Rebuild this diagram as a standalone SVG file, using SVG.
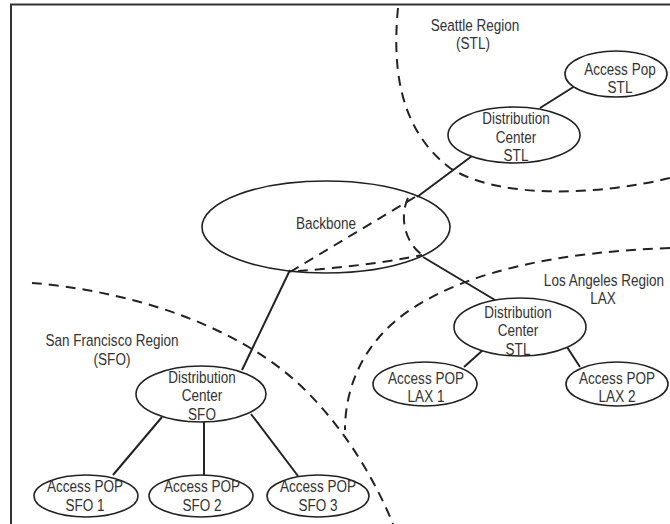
<svg xmlns="http://www.w3.org/2000/svg" width="670" height="524" viewBox="0 0 670 524">
  <style>
    .frame { stroke: #333; stroke-width: 2; fill: none; }
    .boundary { stroke: #222; stroke-width: 2; fill: none; stroke-dasharray: 10 7; }
    .node ellipse { fill: #fff; stroke: #222; stroke-width: 1.6; }
    #backbone ellipse { fill: none; }
    .link { stroke: #222; stroke-width: 2; fill: none; }
    text { font-family: "Liberation Sans", Arial, sans-serif; font-size: 16.5px; fill: #333; text-anchor: middle; }
  </style>

  <rect width="670" height="524" fill="#fff"/>

  <!-- page frame (top and left rules) -->
  <path class="frame" d="M10,4.5 H670 M11,4 V524"/>

  <!-- region boundaries -->
  <g id="regions">
    <path class="boundary" d="M398,8 C392,70 400,130 450,168 C500,200 600,195 670,178"/>
    <path class="boundary" d="M32,283 C120,290 230,320 300,385 C345,428 375,480 393,524"/>
    <path class="boundary" d="M670,248 C560,252 470,270 410,310 C365,340 345,385 345,430"/>
    <path class="boundary" d="M290,272 L415,197"/>
    <path class="boundary" d="M408,198 C400,215 403,240 422,255"/>
    <path class="boundary" d="M298,271 C340,268 390,262 422,255"/>
  </g>

  <!-- region labels (condensed with a horizontal scale) -->
  <g id="region-labels">
    <text transform="translate(475,31) scale(0.82,1)">Seattle Region</text>
    <text transform="translate(473,49) scale(0.82,1)">(STL)</text>
    <text transform="translate(112,346) scale(0.82,1)">San Francisco Region</text>
    <text transform="translate(112,365) scale(0.82,1)">(SFO)</text>
    <text transform="translate(604,286) scale(0.82,1)">Los Angeles Region</text>
    <text transform="translate(603,304) scale(0.82,1)">LAX</text>
  </g>

  <!-- connectors -->
  <g id="connectors">
    <line class="link" x1="417" y1="197" x2="472" y2="156"/>
    <line class="link" x1="540" y1="108" x2="575" y2="86"/>
    <line class="link" x1="423" y1="257" x2="495" y2="300"/>
    <line class="link" x1="483" y1="350" x2="464" y2="367"/>
    <line class="link" x1="567" y1="347" x2="580" y2="367"/>
    <line class="link" x1="290" y1="270" x2="242" y2="370"/>
    <line class="link" x1="162" y1="417" x2="113" y2="475"/>
    <line class="link" x1="204" y1="422" x2="204" y2="475"/>
    <line class="link" x1="251" y1="414" x2="298" y2="476"/>
  </g>

  <!-- nodes -->
  <g id="backbone" class="node">
    <ellipse cx="326" cy="227" rx="124" ry="46"/>
    <text transform="translate(326,229) scale(0.82,1)">Backbone</text>
  </g>

  <g id="dc-stl" class="node">
    <ellipse cx="514" cy="135" rx="66" ry="28"/>
    <text transform="translate(516,124) scale(0.82,1)">Distribution</text>
    <text transform="translate(516,143) scale(0.82,1)">Center</text>
    <text transform="translate(516,161) scale(0.82,1)">STL</text>
  </g>

  <g id="pop-stl" class="node">
    <ellipse cx="616" cy="74" rx="51" ry="23"/>
    <text transform="translate(620,75) scale(0.82,1)">Access Pop</text>
    <text transform="translate(620,93) scale(0.82,1)">STL</text>
  </g>

  <g id="dc-lax" class="node">
    <ellipse cx="520" cy="327" rx="66" ry="29"/>
    <text transform="translate(518,318) scale(0.82,1)">Distribution</text>
    <text transform="translate(518,336) scale(0.82,1)">Center</text>
    <text transform="translate(518,355) scale(0.82,1)">STL</text>
  </g>

  <g id="pop-lax1" class="node">
    <ellipse cx="425" cy="384" rx="52" ry="22"/>
    <text transform="translate(426,384) scale(0.82,1)">Access POP</text>
    <text transform="translate(426,402) scale(0.82,1)">LAX 1</text>
  </g>

  <g id="pop-lax2" class="node">
    <ellipse cx="617" cy="384" rx="51" ry="22"/>
    <text transform="translate(617,384) scale(0.82,1)">Access POP</text>
    <text transform="translate(617,402) scale(0.82,1)">LAX 2</text>
  </g>

  <g id="dc-sfo" class="node">
    <ellipse cx="201" cy="394" rx="65" ry="28"/>
    <text transform="translate(202,383) scale(0.82,1)">Distribution</text>
    <text transform="translate(202,401) scale(0.82,1)">Center</text>
    <text transform="translate(202,420) scale(0.82,1)">SFO</text>
  </g>

  <g id="pop-sfo1" class="node">
    <ellipse cx="86" cy="496" rx="52" ry="21"/>
    <text transform="translate(85,492) scale(0.82,1)">Access POP</text>
    <text transform="translate(85,511) scale(0.82,1)">SFO 1</text>
  </g>

  <g id="pop-sfo2" class="node">
    <ellipse cx="201" cy="496" rx="52" ry="21"/>
    <text transform="translate(202,492) scale(0.82,1)">Access POP</text>
    <text transform="translate(202,511) scale(0.82,1)">SFO 2</text>
  </g>

  <g id="pop-sfo3" class="node">
    <ellipse cx="318" cy="496" rx="51" ry="21"/>
    <text transform="translate(318,492) scale(0.82,1)">Access POP</text>
    <text transform="translate(318,511) scale(0.82,1)">SFO 3</text>
  </g>
</svg>
